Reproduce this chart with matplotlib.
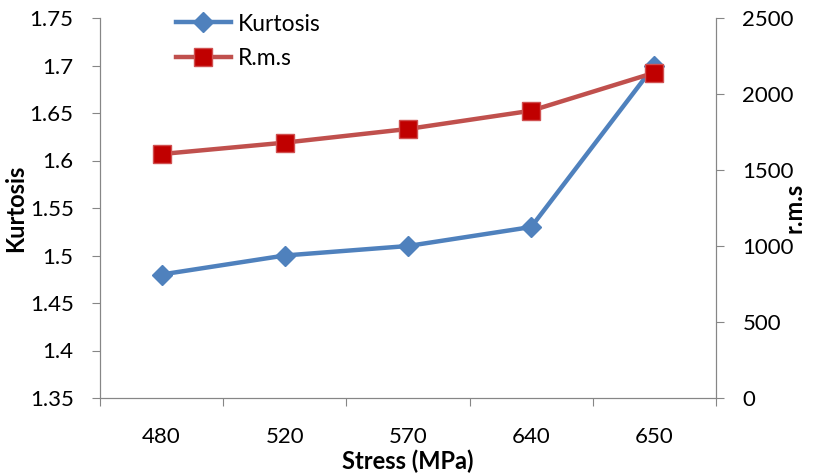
import numpy as np
import matplotlib.pyplot as plt

stress = ['480', '520', '570', '640', '650']
kurtosis = [1.48, 1.50, 1.51, 1.53, 1.70]
rms = [1605, 1680, 1770, 1890, 2140]

plt.rcParams['font.family'] = ['Lato', 'DejaVu Sans']
grey = '#868686'
tick_fs = 16
label_fs = 17

fig = plt.figure(figsize=(8.18, 4.74), dpi=100)
ax = fig.add_axes([100 / 818, 1 - 398 / 474, 616 / 818, 380 / 474])
ax2 = ax.twinx()

x = np.arange(len(stress))
l1, = ax.plot(x, kurtosis, color='#4F81BD', lw=3.2, marker='D', ms=10,
              mfc='#4F81BD', mec='#4F81BD', label='Kurtosis', zorder=3)
l2, = ax2.plot(x, rms, color='#C0504D', lw=3.2, marker='s', ms=12.5,
               mfc='#C00000', mec='#D05050', mew=1, label='R.m.s', zorder=3)

ax.set_xlim(-0.5, len(stress) - 0.5)
ax.set_ylim(1.35, 1.75)
ax.set_yticks(np.arange(1.35, 1.751, 0.05))
ax.set_yticklabels(['1.35', '1.4', '1.45', '1.5', '1.55', '1.6', '1.65', '1.7', '1.75'])
ax2.set_ylim(0, 2500)
ax2.set_yticks(np.arange(0, 2501, 500))

ax.set_xticks(np.arange(-0.5, len(stress), 1))
ax.set_xticklabels([])
ax.set_xticks(x, minor=True)
ax.set_xticklabels(stress, minor=True)

for a in (ax, ax2):
    a.spines['top'].set_visible(False)
    for s in ('left', 'right', 'bottom'):
        a.spines[s].set_color(grey)
    a.tick_params(labelsize=tick_fs, color=grey, length=6)
ax.tick_params(axis='x', which='minor', length=0, pad=21, labelsize=tick_fs)
ax.tick_params(axis='x', which='major', length=6, color=grey)
ax.tick_params(axis='y', pad=13)
ax2.tick_params(axis='y', pad=13)

ax.set_xlabel('Stress (MPa)', fontsize=label_fs, fontweight='bold', labelpad=2)
ax.set_ylabel('Kurtosis', fontsize=label_fs, fontweight='bold', labelpad=2)
ax2.set_ylabel('r.m.s', fontsize=label_fs, fontweight='bold', labelpad=-8)

fig.legend([l1, l2], ['Kurtosis', 'R.m.s'], loc='upper left',
           bbox_to_anchor=(155 / 818, 1.015), frameon=False, fontsize=16.5,
           handlelength=2.4, labelspacing=0.6, handletextpad=0.3)

fig.savefig('out.png', dpi=100)
